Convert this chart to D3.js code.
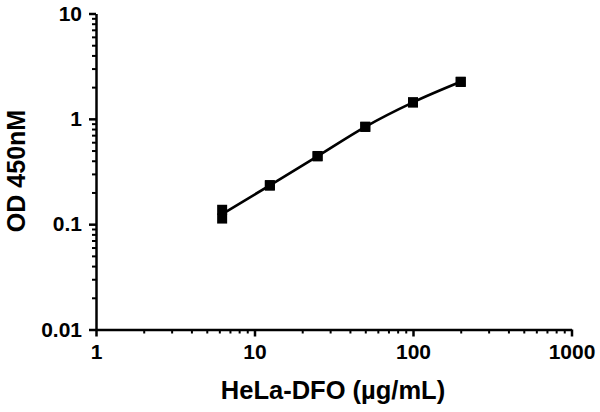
<!DOCTYPE html>
<html>
<head>
<meta charset="utf-8">
<script src="https://cdn.jsdelivr.net/npm/d3@7"></script>
<style>
  html, body { margin: 0; padding: 0; background: #fff; }
  svg { display: block; }
  text { font-family: "Liberation Sans", Arial, Helvetica, sans-serif; font-weight: bold; fill: #000; }
</style>
</head>
<body>
<svg id="chart" width="600" height="412"></svg>
<script>
// ---- data ----
const concentrations = [6.25, 12.5, 25, 50, 100, 200];      // µg/mL
const replicate1 = [0.137, 0.235, 0.444, 0.842, 1.436, 2.25];
const replicate2 = [0.113, 0.232, 0.440, 0.838, 1.430, 2.24];
const xTickValues = [1, 10, 100, 1000];
const xTickLabels = ["1", "10", "100", "1000"];
const yTickValues = [0.01, 0.1, 1, 10];
const yTickLabels = ["0.01", "0.1", "1", "10"];
const xTitle = "HeLa-DFO (\u00b5g/mL)";
const yTitle = "OD 450nM";

// ---- layout ----
const svg = d3.select("#chart");
const x = d3.scaleLog().domain([1, 1000]).range([96, 571.5]);
const y = d3.scaleLog().domain([0.01, 10]).range([329.5, 13.5]);

function minors(domain) {
  const out = [];
  for (let d = domain[0]; d < domain[1]; d *= 10) {
    for (let k = 2; k <= 9; k++) out.push(d * k);
  }
  return out;
}

// minor ticks
svg.append("g")
  .attr("transform", `translate(0,${y.range()[0]})`)
  .call(d3.axisBottom(x).tickValues(minors(x.domain())).tickSize(4).tickSizeOuter(0).tickFormat(""))
  .call(g => g.select(".domain").remove())
  .call(g => g.selectAll("line").attr("stroke", "#000").attr("stroke-width", 2));

svg.append("g")
  .attr("transform", `translate(${x.range()[0]},0)`)
  .call(d3.axisLeft(y).tickValues(minors(y.domain())).tickSize(4).tickSizeOuter(0).tickFormat(""))
  .call(g => g.select(".domain").remove())
  .call(g => g.selectAll("line").attr("stroke", "#000").attr("stroke-width", 2));

// major axes
const xAxis = svg.append("g")
  .attr("transform", `translate(0,${y.range()[0]})`)
  .call(d3.axisBottom(x).tickValues(xTickValues).tickSize(7).tickSizeOuter(0).tickPadding(8)
    .tickFormat((d, i) => xTickLabels[i]));
xAxis.select(".domain").attr("stroke", "#000").attr("stroke-width", 2.5);
xAxis.selectAll("line").attr("stroke", "#000").attr("stroke-width", 2.5);
xAxis.selectAll("text").attr("font-size", 21).attr("font-family", null).style("font-family", "'Liberation Sans', Arial, sans-serif").attr("font-weight", "bold").attr("fill", "#000");

const yAxis = svg.append("g")
  .attr("transform", `translate(${x.range()[0]},0)`)
  .call(d3.axisLeft(y).tickValues(yTickValues).tickSize(7).tickSizeOuter(0).tickPadding(7)
    .tickFormat((d, i) => yTickLabels[i]));
yAxis.select(".domain").attr("stroke", "#000").attr("stroke-width", 2.5);
yAxis.selectAll("line").attr("stroke", "#000").attr("stroke-width", 2.5);
yAxis.selectAll("text").attr("font-size", 21).attr("font-family", null).style("font-family", "'Liberation Sans', Arial, sans-serif").attr("font-weight", "bold").attr("fill", "#000");

// axis titles
svg.append("text")
  .attr("x", 333).attr("y", 399)
  .attr("text-anchor", "middle")
  .attr("font-size", 25.5)
  .text(xTitle);

svg.append("text")
  .attr("transform", "translate(25,171) rotate(-90)")
  .attr("text-anchor", "middle")
  .attr("font-size", 25)
  .text(yTitle);

// fitted curve through means
const means = concentrations.map((c, i) => ({ c, v: Math.sqrt(replicate1[i] * replicate2[i]) }));
const line = d3.line()
  .x(d => x(d.c))
  .y(d => y(d.v))
  .curve(d3.curveMonotoneX);
svg.append("path")
  .datum(means)
  .attr("d", line)
  .attr("fill", "none")
  .attr("stroke", "#000")
  .attr("stroke-width", 2.7);

// points
const pts = [];
concentrations.forEach((c, i) => {
  pts.push({ c, v: replicate1[i] });
  pts.push({ c, v: replicate2[i] });
});
const s = 10;
svg.append("g").selectAll("rect")
  .data(pts)
  .join("rect")
  .attr("x", d => x(d.c) - s / 2)
  .attr("y", d => y(d.v) - s / 2)
  .attr("width", s)
  .attr("height", s)
  .attr("fill", "#000");
</script>
</body>
</html>
